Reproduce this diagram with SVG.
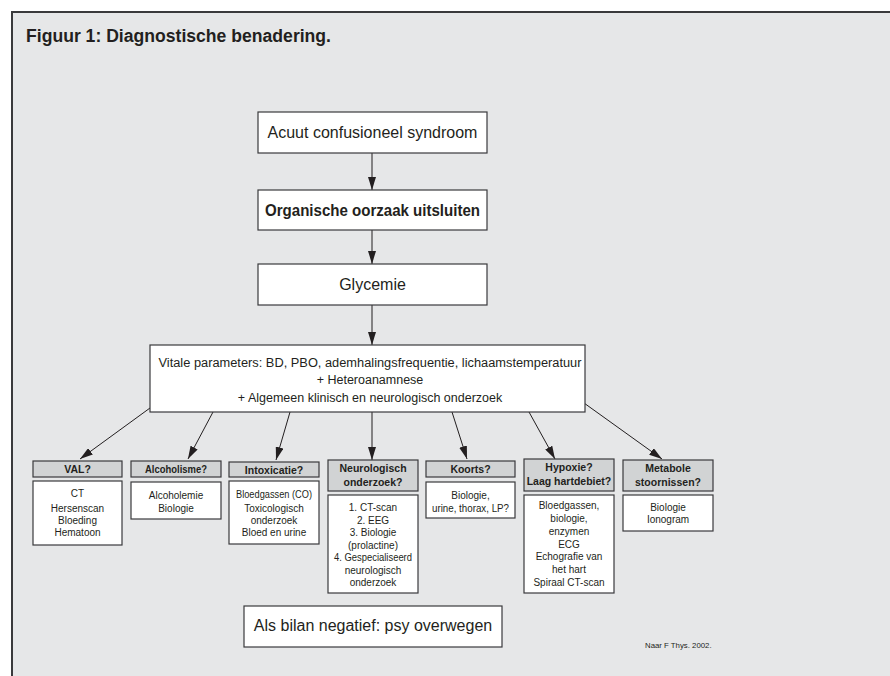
<svg xmlns="http://www.w3.org/2000/svg" width="890" height="676" viewBox="0 0 890 676">
<defs>
<style>
.box{fill:#ffffff;stroke:#3a3a3c;stroke-width:1.2}
.hdr{fill:#d1d3d4;stroke:#3a3a3c;stroke-width:1.2}
.t{font-family:"Liberation Sans",Arial,sans-serif;fill:#231f20;text-anchor:middle}
.big{font-size:16px}
.mid{font-size:12.5px}
.sm{font-size:10px}
.hb{font-size:10.5px;font-weight:bold}
.con{stroke:#231f20;stroke-width:1;fill:none;marker-end:url(#ah)}
</style>
<marker id="ah" viewBox="0 0 13 8" refX="13" refY="4" markerWidth="13" markerHeight="8" markerUnits="userSpaceOnUse" orient="auto">
<path d="M0,0 L13,4 L0,8 Z" fill="#231f20"/>
</marker>
</defs>
<rect x="0" y="0" width="890" height="676" fill="#ffffff"/>
<rect x="12" y="12" width="890" height="680" fill="#e6e7e8" stroke="#3a3a3c" stroke-width="2"/>
<text x="26" y="42" font-family="Liberation Sans,Arial,sans-serif" font-size="17.5" font-weight="bold" fill="#231f20" textLength="305" lengthAdjust="spacingAndGlyphs">Figuur 1: Diagnostische benadering.</text>

<g id="connectors">
<line class="con" x1="372" y1="153" x2="372" y2="190"/>
<line class="con" x1="372" y1="230" x2="372" y2="264"/>
<line class="con" x1="372" y1="305" x2="372" y2="345"/>
<line class="con" x1="150" y1="408" x2="80" y2="459"/>
<line class="con" x1="213" y1="412" x2="188" y2="459"/>
<line class="con" x1="290" y1="412" x2="276" y2="460"/>
<line class="con" x1="372" y1="412" x2="372" y2="460"/>
<line class="con" x1="452" y1="412" x2="467" y2="459"/>
<line class="con" x1="529" y1="412" x2="555" y2="459"/>
<line class="con" x1="584" y1="403" x2="662" y2="459"/>
</g>

<g id="n1">
<rect class="box" x="258" y="112" width="229" height="41"/>
<text class="t big" x="372.5" y="138">Acuut confusioneel syndroom</text>
</g>
<g id="n2">
<rect class="box" x="258" y="190" width="229" height="40"/>
<text class="t big" x="372.5" y="216" font-weight="bold" textLength="215" lengthAdjust="spacingAndGlyphs">Organische oorzaak uitsluiten</text>
</g>
<g id="n3">
<rect class="box" x="258" y="264" width="229" height="41"/>
<text class="t big" x="372.5" y="290">Glycemie</text>
</g>
<g id="n4">
<rect class="box" x="150" y="345" width="435" height="67"/>
<text class="t mid" x="370" y="367" textLength="423" lengthAdjust="spacingAndGlyphs">Vitale parameters: BD, PBO, ademhalingsfrequentie, lichaamstemperatuur</text>
<text class="t mid" x="370" y="384">+ Heteroanamnese</text>
<text class="t mid" x="370" y="402">+ Algemeen klinisch en neurologisch onderzoek</text>
</g>

<g id="val">
<rect class="hdr" x="33" y="461" width="89" height="16"/>
<text class="t hb" x="77.5" y="472.5">VAL?</text>
<rect class="box" x="33" y="481" width="89" height="64"/>
<text class="t sm" x="77.5" y="497">CT</text>
<text class="t sm" x="77.5" y="512">Hersenscan</text>
<text class="t sm" x="77.5" y="524">Bloeding</text>
<text class="t sm" x="77.5" y="536">Hematoon</text>
</g>
<g id="alcoholisme">
<rect class="hdr" x="131" y="461" width="90" height="16"/>
<text class="t hb" x="176" y="472.5" textLength="62" lengthAdjust="spacingAndGlyphs">Alcoholisme?</text>
<rect class="box" x="131" y="482" width="90" height="37"/>
<text class="t sm" x="176" y="499">Alcoholemie</text>
<text class="t sm" x="176" y="512">Biologie</text>
</g>
<g id="intoxicatie">
<rect class="hdr" x="229" y="462" width="90" height="15"/>
<text class="t hb" x="274" y="473.5">Intoxicatie?</text>
<rect class="box" x="229" y="481" width="90" height="63"/>
<text class="t sm" x="274" y="498" textLength="76" lengthAdjust="spacingAndGlyphs">Bloedgassen (CO)</text>
<text class="t sm" x="274" y="512">Toxicologisch</text>
<text class="t sm" x="274" y="524">onderzoek</text>
<text class="t sm" x="274" y="536">Bloed en urine</text>
</g>
<g id="neurologisch">
<rect class="hdr" x="328" y="460" width="90" height="31"/>
<text class="t hb" x="373" y="472">Neurologisch</text>
<text class="t hb" x="373" y="486">onderzoek?</text>
<rect class="box" x="328" y="495" width="90" height="98"/>
<text class="t sm" x="373" y="511">1. CT-scan</text>
<text class="t sm" x="373" y="523.5">2. EEG</text>
<text class="t sm" x="373" y="536">3. Biologie</text>
<text class="t sm" x="373" y="548.5">(prolactine)</text>
<text class="t sm" x="373" y="561" textLength="78" lengthAdjust="spacingAndGlyphs">4. Gespecialiseerd</text>
<text class="t sm" x="373" y="573.5">neurologisch</text>
<text class="t sm" x="373" y="586">onderzoek</text>
</g>
<g id="koorts">
<rect class="hdr" x="426" y="461" width="89" height="16"/>
<text class="t hb" x="470.5" y="472.5">Koorts?</text>
<rect class="box" x="426" y="482" width="89" height="36"/>
<text class="t sm" x="470.5" y="499">Biologie,</text>
<text class="t sm" x="470.5" y="512" textLength="77" lengthAdjust="spacingAndGlyphs">urine, thorax, LP?</text>
</g>
<g id="hypoxie">
<rect class="hdr" x="524" y="459" width="90" height="32"/>
<text class="t hb" x="569" y="471">Hypoxie?</text>
<text class="t hb" x="569" y="485">Laag hartdebiet?</text>
<rect class="box" x="524" y="495" width="90" height="98"/>
<text class="t sm" x="569" y="509">Bloedgassen,</text>
<text class="t sm" x="569" y="522">biologie,</text>
<text class="t sm" x="569" y="535">enzymen</text>
<text class="t sm" x="569" y="548">ECG</text>
<text class="t sm" x="569" y="560">Echografie van</text>
<text class="t sm" x="569" y="573">het hart</text>
<text class="t sm" x="569" y="586">Spiraal CT-scan</text>
</g>
<g id="metabole">
<rect class="hdr" x="623" y="460" width="90" height="31"/>
<text class="t hb" x="668" y="472">Metabole</text>
<text class="t hb" x="668" y="486">stoornissen?</text>
<rect class="box" x="623" y="495" width="90" height="36"/>
<text class="t sm" x="668" y="511">Biologie</text>
<text class="t sm" x="668" y="523">Ionogram</text>
</g>

<g id="n5">
<rect class="box" x="244" y="606" width="258" height="41"/>
<text class="t big" x="373" y="631">Als bilan negatief: psy overwegen</text>
</g>
<text x="645" y="648" font-family="Liberation Sans,Arial,sans-serif" font-size="7.8" fill="#231f20">Naar F Thys. 2002.</text>
</svg>
